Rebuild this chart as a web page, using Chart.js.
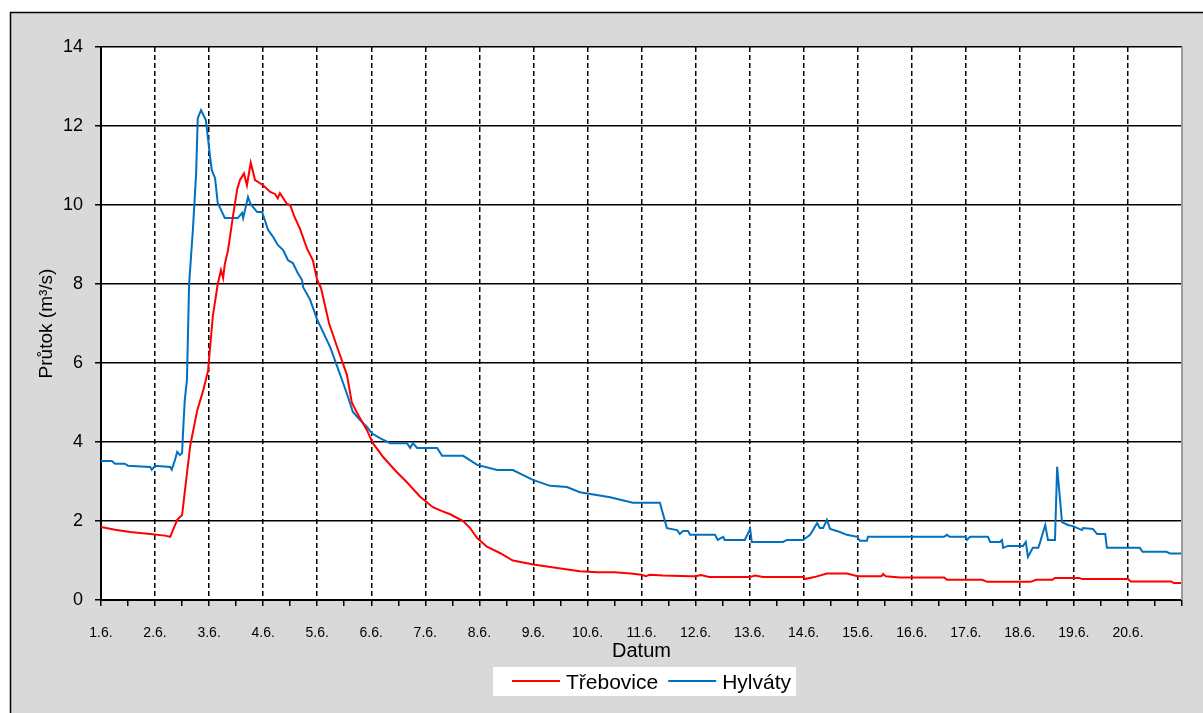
<!DOCTYPE html>
<html lang="cs">
<head>
  <meta charset="UTF-8">
  <title>Průtok</title>
  <script src="https://cdn.jsdelivr.net/npm/chart.js@4.4.1/dist/chart.umd.min.js"></script>
  <style>
    html, body { margin: 0; padding: 0; background: #fff; }
    #wrap { position: absolute; left: 0; top: 0; width: 1203px; height: 713px; }
  </style>
</head>
<body>
<div id="wrap"><canvas id="myChart" width="1203" height="713"></canvas></div>

<script>
// dny od 1.6. (0 = 1.6. 0:00)
const trebDays = [0, 0.26, 0.54, 0.91, 1.18, 1.28, 1.41, 1.5, 1.65, 1.78, 1.89, 1.98, 2.07, 2.16, 2.22, 2.26, 2.29, 2.35,
  2.44, 2.52, 2.57, 2.645, 2.7, 2.77, 2.85, 3.0, 3.13, 3.22, 3.27, 3.31, 3.44, 3.5, 3.57, 3.68, 3.81, 3.92, 4.0, 4.07,
  4.22, 4.37, 4.55, 4.64, 4.74, 4.92, 5.03, 5.22, 5.47, 5.66, 5.9, 6.14, 6.31, 6.46, 6.7, 6.83, 6.96, 7.14, 7.38, 7.62,
  8.0, 8.44, 8.86, 9.18, 9.5, 9.8, 10.0, 10.08, 10.15, 10.4, 10.9, 11.0, 11.1, 11.25, 12.0, 12.1, 12.25, 13.0, 13.02,
  13.2, 13.43, 13.8, 14.0, 14.44, 14.47, 14.52, 14.78, 15.6, 15.65, 16.3, 16.4, 17.2, 17.3, 17.6, 17.65, 18.1, 18.15,
  19.0, 19.05, 19.8, 19.85, 20];
const trebFlow = [1.85, 1.78, 1.72, 1.67, 1.63, 1.6, 2.03, 2.15, 3.9, 4.8, 5.3, 5.8, 7.2, 8.0, 8.35, 8.15, 8.5, 8.85,
  9.7, 10.4, 10.63, 10.8, 10.5, 11.07, 10.63, 10.5, 10.33, 10.28, 10.17, 10.3, 10.03, 10.0, 9.73, 9.4, 8.9, 8.6, 8.1, 7.9,
  7.0, 6.4, 5.7, 5.0, 4.73, 4.3, 3.97, 3.62, 3.24, 2.98, 2.62, 2.35, 2.25, 2.17, 2.0, 1.82, 1.57, 1.35, 1.19, 1.0,
  0.9, 0.81, 0.73, 0.7, 0.7, 0.67, 0.64, 0.6, 0.64, 0.62, 0.6, 0.6, 0.63, 0.58, 0.58, 0.62, 0.58, 0.58, 0.53,
  0.58, 0.67, 0.67, 0.6, 0.6, 0.66, 0.6, 0.57, 0.57, 0.51, 0.51, 0.46, 0.46, 0.51, 0.51, 0.56, 0.56, 0.53,
  0.53, 0.47, 0.47, 0.43, 0.43];

const hylDays = [0, 0.2, 0.26, 0.44, 0.5, 0.91, 0.94, 1.0, 1.28, 1.31, 1.37, 1.41, 1.46, 1.5, 1.52, 1.55, 1.59, 1.63,
  1.7, 1.76, 1.79, 1.85, 1.94, 2.02, 2.05, 2.11, 2.16, 2.24, 2.29, 2.53, 2.61, 2.63, 2.72, 2.76, 2.81, 2.89, 2.98, 3.03,
  3.09, 3.18, 3.27, 3.37, 3.46, 3.55, 3.64, 3.72, 3.74, 3.87, 4.0, 4.24, 4.46, 4.57, 4.66, 4.79, 4.92, 5.01, 5.16, 5.35,
  5.66, 5.72, 5.77, 5.85, 6.22, 6.31, 6.7, 6.96, 7.33, 7.62, 7.99, 8.31, 8.62, 8.86, 9.42, 9.84, 10.34, 10.47, 10.66,
  10.71, 10.77, 10.86, 10.9, 11.36, 11.41, 11.51, 11.54, 11.91, 12.01, 12.04, 12.62, 12.69, 12.99, 13.12, 13.25, 13.3,
  13.36, 13.43, 13.49, 13.67, 13.8, 13.99, 14.04, 14.17, 14.19, 15.6, 15.65, 15.7, 15.99, 16.02, 16.08, 16.41, 16.45,
  16.63, 16.67, 16.69, 16.78, 17.06, 17.11, 17.15, 17.24, 17.34, 17.37, 17.47, 17.52, 17.65, 17.69, 17.78, 17.89, 17.98,
  18.15, 18.17, 18.35, 18.43, 18.58, 18.61, 19.22, 19.27, 19.71, 19.78, 20];
const hylFlow = [3.52, 3.52, 3.45, 3.45, 3.40, 3.37, 3.30, 3.40, 3.37, 3.30, 3.55, 3.75, 3.67, 3.72, 4.30, 5.06, 5.57, 8.00,
  9.37, 10.80, 12.20, 12.40, 12.15, 11.20, 10.88, 10.68, 10.05, 9.82, 9.67, 9.67, 9.80, 9.67, 10.20, 10.05, 9.95, 9.82, 9.82, 9.62,
  9.37, 9.20, 8.99, 8.86, 8.60, 8.53, 8.28, 8.10, 7.92, 7.60, 7.10, 6.40, 5.57, 5.14, 4.76, 4.56, 4.38, 4.22, 4.10, 3.97,
  3.97, 3.85, 3.97, 3.85, 3.85, 3.65, 3.65, 3.42, 3.29, 3.29, 3.04, 2.89, 2.86, 2.73, 2.60, 2.46, 2.46, 1.82, 1.77,
  1.67, 1.75, 1.75, 1.65, 1.65, 1.52, 1.60, 1.52, 1.52, 1.80, 1.47, 1.47, 1.52, 1.52, 1.65, 1.95, 1.82,
  1.82, 2.03, 1.80, 1.72, 1.65, 1.60, 1.50, 1.50, 1.60, 1.60, 1.65, 1.60, 1.60, 1.52, 1.60, 1.60, 1.47,
  1.47, 1.52, 1.32, 1.37, 1.37, 1.47, 1.09, 1.32, 1.32, 1.44, 1.90, 1.52, 1.52, 3.37, 1.97, 1.90, 1.87,
  1.77, 1.82, 1.80, 1.67, 1.67, 1.32, 1.32, 1.22, 1.22, 1.18, 1.18];

const yTicks = [0, 2, 4, 6, 8, 10, 12, 14];
const dayLabels = ['1.6.', '2.6.', '3.6.', '4.6.', '5.6.', '6.6.', '7.6.', '8.6.', '9.6.', '10.6.',
  '11.6.', '12.6.', '13.6.', '14.6.', '15.6.', '16.6.', '17.6.', '18.6.', '19.6.', '20.6.'];

const FONT = '"Liberation Sans", Arial, sans-serif';

const toPoints = (xs, ys) => xs.map((x, i) => ({ x: x, y: ys[i] }));

// pozadí grafu (šedý rámeček + bílá plocha), legenda
const backgroundPlugin = {
  id: 'bg',
  beforeDraw(chart) {
    const { ctx, chartArea } = chart;
    ctx.save();
    ctx.fillStyle = '#ffffff';
    ctx.fillRect(0, 0, chart.width, chart.height);
    ctx.fillStyle = '#d9d9d9';
    ctx.fillRect(10, 12, chart.width - 10, chart.height - 12);
    ctx.strokeStyle = '#000';
    ctx.lineWidth = 1.5;
    ctx.beginPath();
    ctx.moveTo(10.5, chart.height);
    ctx.lineTo(10.5, 12.5);
    ctx.lineTo(chart.width, 12.5);
    ctx.stroke();
    ctx.fillStyle = '#ffffff';
    ctx.fillRect(chartArea.left, chartArea.top, chartArea.right - chartArea.left, chartArea.bottom - chartArea.top);
    ctx.restore();
  },
  afterDraw(chart) {
    const { ctx, chartArea } = chart;
    ctx.save();
    // pravý okraj plochy
    ctx.strokeStyle = '#9a9a9a';
    ctx.lineWidth = 2;
    ctx.beginPath();
    ctx.moveTo(chartArea.right, chartArea.top);
    ctx.lineTo(chartArea.right, chartArea.bottom);
    ctx.stroke();

    // legenda
    ctx.font = '21px ' + FONT;
    const items = chart.data.datasets.map(d => ({ label: d.label, color: d.borderColor, w: ctx.measureText(d.label).width }));
    const lineW = 48, padL = 19, padR = 5, gapT = 6, gapI = 10;
    let total = padL + padR;
    items.forEach((it, i) => { total += lineW + gapT + it.w + (i ? gapI : 0); });
    const cx = (chartArea.left + chartArea.right) / 2;
    let x = Math.round(cx + 3 - total / 2);
    const y = 681;
    ctx.fillStyle = '#ffffff';
    ctx.fillRect(x, 667, total, 29);
    x += padL;
    ctx.textBaseline = 'middle';
    ctx.textAlign = 'left';
    items.forEach((it, i) => {
      if (i) x += gapI;
      ctx.strokeStyle = it.color;
      ctx.lineWidth = 2;
      ctx.beginPath();
      ctx.moveTo(x, y);
      ctx.lineTo(x + lineW, y);
      ctx.stroke();
      x += lineW + gapT;
      ctx.fillStyle = '#000';
      ctx.fillText(it.label, x, y + 2);
      x += it.w;
    });
    ctx.restore();
  }
};

const ctx = document.getElementById('myChart').getContext('2d');

const myChart = new Chart(ctx, {
  type: 'line',
  data: {
    datasets: [{
      label: 'Třebovice',
      data: toPoints(trebDays, trebFlow),
      borderColor: '#ff0000',
      backgroundColor: '#ff0000',
      borderWidth: 2,
      pointRadius: 0,
      tension: 0
    }, {
      label: 'Hylváty',
      data: toPoints(hylDays, hylFlow),
      borderColor: '#0070c0',
      backgroundColor: '#0070c0',
      borderWidth: 2,
      pointRadius: 0,
      tension: 0
    }]
  },
  options: {
    responsive: false,
    animation: false,
    layout: { padding: { left: 0, top: 47, right: 21, bottom: 0 } },
    plugins: {
      legend: { display: false },
      tooltip: { enabled: false }
    },
    scales: {
      x: {
        type: 'linear',
        min: 0,
        max: 20,
        ticks: {
          stepSize: 0.5,
          maxTicksLimit: 100,
          autoSkip: false,
          maxRotation: 0,
          minRotation: 0,
          padding: 19,
          color: '#000',
          font: { family: FONT, size: 14 },
          callback: v => (v % 1 === 0 && dayLabels[v] !== undefined) ? dayLabels[v] : ''
        },
        grid: {
          color: c => (c.tick && c.tick.value % 1 === 0 && c.tick.value > 0 && c.tick.value < 20) ? '#000' : 'rgba(0,0,0,0)',
          lineWidth: 1.5,
          tickLength: 6,
          tickColor: '#000',
          tickWidth: 1.5
        },
        border: { color: '#000', width: 2, dash: [5, 3] },
        title: {
          display: true,
          text: 'Datum',
          color: '#000',
          font: { family: FONT, size: 20 },
          padding: { top: 0, bottom: 50 }
        },
        afterFit: s => { s.height = 113; }
      },
      y: {
        min: 0,
        max: 14,
        afterBuildTicks: s => { s.ticks = yTicks.map(v => ({ value: v })); },
        ticks: {
          padding: 12,
          color: '#000',
          font: { family: FONT, size: 18 }
        },
        grid: {
          color: '#000',
          lineWidth: 1.5,
          tickLength: 6,
          tickColor: '#000',
          tickWidth: 1.5
        },
        border: { color: '#000', width: 2 },
        title: {
          display: true,
          text: 'Průtok (m³/s)',
          color: '#000',
          font: { family: FONT, size: 19 },
          padding: { top: 35, bottom: 0 }
        },
        afterFit: s => { s.width = 101; }
      }
    }
  },
  plugins: [backgroundPlugin]
});
</script>

</body>
</html>
